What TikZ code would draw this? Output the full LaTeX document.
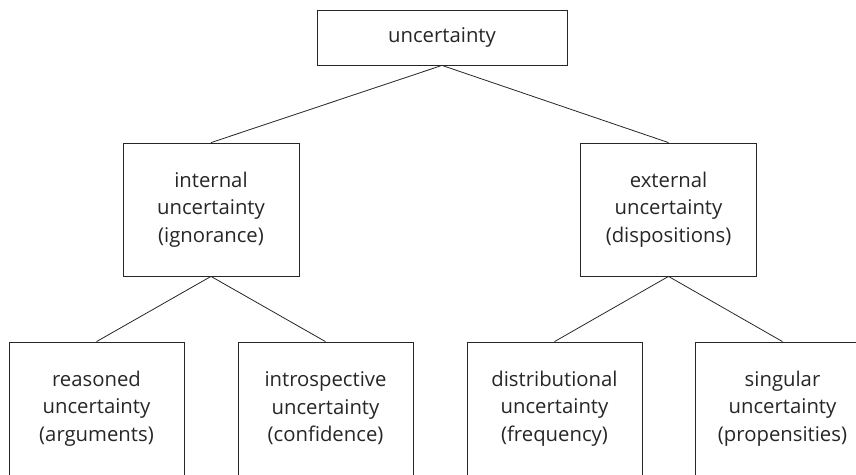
\documentclass[tikz,border=0pt]{standalone}
\usepackage{fontspec}
\setmainfont{Open Sans}
\begin{document}
\begin{tikzpicture}[x=1pt,y=-1pt,
  box/.style={draw=black!85, line width=0.8pt, inner sep=0pt, align=center,
    font=\fontsize{20.3}{27.5}\selectfont, text=black!85},
  rootbox/.style={box, minimum width=250pt, minimum height=55pt},
  midbox/.style={box, minimum width=176pt, minimum height=133pt},
  leafbox/.style={box, minimum width=175pt, minimum height=133pt},
  link/.style={draw=black!85, line width=0.8pt}]
  % page frame, cropping the lower row
  \clip (0,0) rectangle (856,474);

  \node[rootbox] (root) at (442,37.5) {uncertainty};

  \node[midbox] (int) at (211,209.5) {internal\\uncertainty\\(ignorance)};
  \node[midbox] (ext) at (668.5,209.5) {external\\uncertainty\\(dispositions)};

  \node[leafbox] (rea) at (96.5,408.5) {reasoned\\uncertainty\\(arguments)};
  \node[leafbox] (intro) at (325.5,408.5) {introspective\\uncertainty\\(confidence)};
  \node[leafbox] (dist) at (554.5,408.5) {distributional\\uncertainty\\(frequency)};
  \node[leafbox] (sing) at (782.5,408.5) {singular\\uncertainty\\(propensities)};

  \draw[link] (int.north) -- (root.south) -- (ext.north);
  \draw[link] (rea.north) -- (int.south) -- (intro.north);
  \draw[link] (dist.north) -- (ext.south) -- (sing.north);
\end{tikzpicture}
\end{document}
